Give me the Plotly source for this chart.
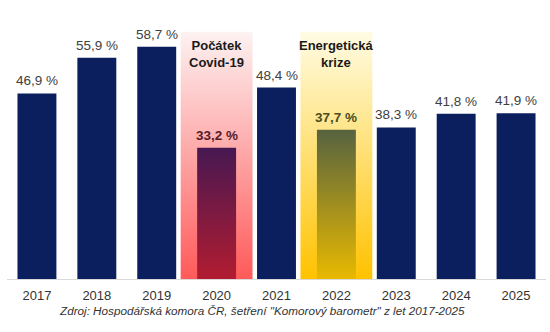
import plotly.graph_objects as go

# Share of firms (in %) per survey year
years = ["2017", "2018", "2019", "2020", "2021", "2022", "2023", "2024", "2025"]
values = [46.9, 55.9, 58.7, 33.2, 48.4, 37.7, 38.3, 41.8, 41.9]
labels = ["46,9 %", "55,9 %", "58,7 %", "33,2 %", "48,4 %", "37,7 %", "38,3 %", "41,8 %", "41,9 %"]

# Highlighted crisis years
events = {3: "Počátek<br>Covid-19", 5: "Energetická<br>krize"}
band_height = 62.5

NAVY = "#0b1f5e"
BAR_W = 0.65
BAND_W = 1.2
FONT = "Arial, Liberation Sans, sans-serif"

# bottom -> top colours for highlighted bars and their background bands
bar_grad = {3: ("#b21c30", "#471852"), 5: ("#e8b900", "#566340")}
band_grad = {3: ("#ff5a5a", "#fdf2f2"), 5: ("#ffc200", "#fffce4")}
label_color = {3: "#5a1a2a", 5: "#4a4e20"}

xs = list(range(len(years)))

fig = go.Figure()

# regular navy bars (highlighted years are drawn with gradients below)
fig.add_trace(go.Bar(
    x=xs,
    y=[v if i not in events else None for i, v in enumerate(values)],
    width=BAR_W,
    marker=dict(color=NAVY, line=dict(width=0)),
    hoverinfo="skip",
    showlegend=False,
))


def rect_trace(i, w, top, grad):
    x0, x1 = i - w / 2, i + w / 2
    return go.Scatter(
        x=[x0, x1, x1, x0, x0],
        y=[0, 0, top, top, 0],
        mode="lines",
        line=dict(width=0),
        fill="toself",
        fillgradient=dict(type="vertical", start=0, stop=top,
                          colorscale=[[0, grad[0]], [1, grad[1]]]),
        hoverinfo="skip",
        showlegend=False,
    )


for i in events:
    fig.add_trace(rect_trace(i, BAND_W, band_height, band_grad[i]))
for i in events:
    fig.add_trace(rect_trace(i, BAR_W, values[i], bar_grad[i]))

# value labels above bars
for i, (v, t) in enumerate(zip(values, labels)):
    hl = i in events
    fig.add_annotation(
        x=i, y=v, text=f"<b>{t}</b>" if hl else t,
        showarrow=False, yanchor="bottom", yshift=3,
        font=dict(family=FONT, size=13.5, color=label_color.get(i, "#404040")),
    )

# event captions
for i, txt in events.items():
    fig.add_annotation(
        x=i, y=56.8, text=f"<b>{txt}</b>", showarrow=False,
        yanchor="middle", font=dict(family=FONT, size=13, color="#1a1a1a"),
    )

# source note
fig.add_annotation(
    xref="paper", yref="paper", x=0.473, y=-0.118,
    text="<i>Zdroj: Hospodářská komora ČR, šetření \"Komorový barometr\" z let 2017-2025</i>",
    showarrow=False, yanchor="middle",
    font=dict(family=FONT, size=11.7, color="#333333"),
)

fig.update_layout(
    width=550, height=332,
    margin=dict(l=7, r=4, t=10, b=53),
    paper_bgcolor="white", plot_bgcolor="white",
    bargap=0.35,
    font=dict(family=FONT),
)
fig.update_xaxes(
    range=[-0.5, 8.5], tickvals=xs, ticktext=years,
    showgrid=False, zeroline=False,
    showline=True, linecolor="#d9d9d9", linewidth=1,
    ticklabelstandoff=4,
    tickfont=dict(family=FONT, size=13, color="#333333"),
)
fig.update_yaxes(range=[0, 68], visible=False, showgrid=False, zeroline=False)

fig.write_html("out.html")
